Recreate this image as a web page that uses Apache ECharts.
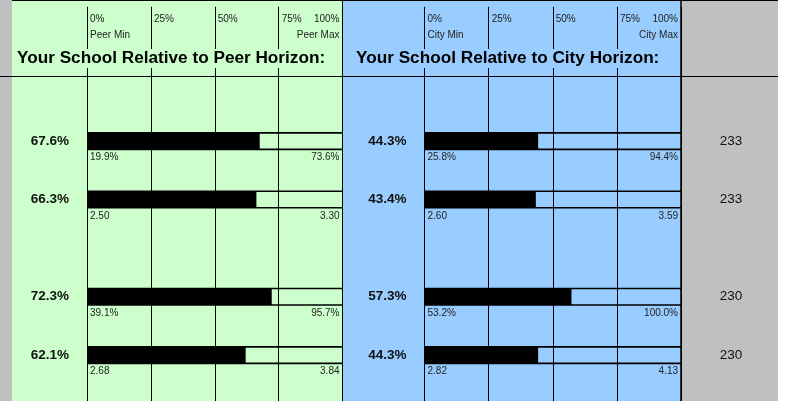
<!DOCTYPE html>
<html>
<head>
<meta charset="utf-8">
<title>Your School Relative to Horizon</title>
<script src="https://cdn.jsdelivr.net/npm/echarts@6/dist/echarts.min.js"></script>
<style>
html, body { margin: 0; padding: 0; background: #fff; }
#chart { width: 791px; height: 401px; }
</style>
</head>
<body>
<div id="chart"></div>
<script type="text/javascript">
// sheet row of each measure (blank rows sit between the two groups)
var sheetRows = [3, 6, 11, 14];

var peerScore = [67.6, 66.3, 72.3, 62.1];
var peerMin = ['19.9%', '2.50', '39.1%', '2.68'];
var peerMax = ['73.6%', '3.30', '95.7%', '3.84'];

var cityScore = [44.3, 43.4, 57.3, 44.3];
var cityMin = ['25.8%', '2.60', '53.2%', '2.82'];
var cityMax = ['94.4%', '3.59', '100.0%', '4.13'];

var schoolCount = [233, 233, 230, 230];

var tickLabels = ['0%', '25%', '50%', '75%', '100%'];

var FONT = '"Liberation Sans", Arial, sans-serif';
var GREEN = '#CCFFCC', BLUE = '#99CCFF', GRAY = '#C0C0C0';

function makeAxisX(gridIndex) {
	return {
		type: 'value',
		gridIndex: gridIndex,
		position: 'top',
		min: 0,
		max: 100,
		interval: 25,
		axisLine: {show: false},
		axisTick: {show: true, length: 76, lineStyle: {color: '#000', width: 1}},
		splitLine: {show: true, lineStyle: {color: '#000', width: 1}},
		axisLabel: {
			show: true,
			showMinLabel: true,
			showMaxLabel: true,
			margin: 64,
			align: 'left',
			alignMaxLabel: 'right',
			verticalAlign: 'top',
			padding: [0, 3, 0, 3],
			color: '#222',
			fontSize: 10,
			lineHeight: 15,
			fontFamily: FONT,
			formatter: function (v) { return tickLabels[Math.round(v / 25)]; }
		}
	};
}

function makeAxisY(gridIndex) {
	return {type: 'value', gridIndex: gridIndex, inverse: true, min: -0.35, max: 16.36, show: false};
}

function makeRender(mins, maxs, counts) {
	return function (params, api) {
		var i = params.dataIndex;
		var v = api.value(0), row = api.value(1);
		var p0 = api.coord([0, row]);
		var p1 = api.coord([100, row]);
		var pv = api.coord([v, row]);
		var h = 16.5;
		var y = p0[1];
		var kids = [
			{type: 'rect', shape: {x: p0[0], y: y - h / 2, width: pv[0] - p0[0], height: h},
				style: {fill: '#000'}},
			{type: 'line', shape: {x1: p0[0], y1: y - h / 2, x2: p1[0], y2: y - h / 2},
				style: {stroke: '#000', lineWidth: 1.6}},
			{type: 'line', shape: {x1: p0[0], y1: y + h / 2, x2: p1[0], y2: y + h / 2},
				style: {stroke: '#000', lineWidth: 1.6}},
			{type: 'text', style: {x: p0[0] - 18, y: y, text: v.toFixed(1) + '%', align: 'right', verticalAlign: 'middle',
				font: 'bold 13.5px ' + FONT, fill: '#111'}},
			{type: 'text', style: {x: p0[0] + 3, y: y + 16.5, text: mins[i], align: 'left', verticalAlign: 'middle',
				font: '10px ' + FONT, fill: '#222'}},
			{type: 'text', style: {x: p1[0] - 3, y: y + 16.5, text: maxs[i], align: 'right', verticalAlign: 'middle',
				font: '10px ' + FONT, fill: '#222'}}
		];
		if (counts) {
			kids.push({type: 'text', style: {x: p1[0] + 50, y: y, text: String(counts[i]), align: 'center', verticalAlign: 'middle',
				font: '13.5px ' + FONT, fill: '#111'}});
		}
		return {type: 'group', children: kids};
	};
}

function endText(x, align, text) {
	return {type: 'text', z: 10, style: {x: x, y: 35, text: text, align: align, verticalAlign: 'middle',
		font: '10px ' + FONT, fill: '#222'}};
}

var chart = echarts.init(document.getElementById('chart'));
chart.setOption({
	animation: false,
	backgroundColor: '#fff',
	title: [{
		text: 'Your School Relative to Peer Horizon:',
		left: 15, top: 49, padding: [1, 2],
		backgroundColor: GREEN,
		textStyle: {fontSize: 17.2, fontWeight: 'bold', color: '#000', fontFamily: FONT, lineHeight: 17}
	}, {
		text: 'Your School Relative to City Horizon:',
		left: 354, top: 49, padding: [1, 2],
		backgroundColor: BLUE,
		textStyle: {fontSize: 17.2, fontWeight: 'bold', color: '#000', fontFamily: FONT, lineHeight: 17}
	}],
	grid: [
		{left: 87, width: 255.5, top: 76, bottom: 0},
		{left: 424.5, width: 256.5, top: 76, bottom: 0}
	],
	xAxis: [makeAxisX(0), makeAxisX(1)],
	yAxis: [makeAxisY(0), makeAxisY(1)],
	series: [{
		name: 'Peer',
		type: 'custom',
		xAxisIndex: 0, yAxisIndex: 0,
		clip: false,
		renderItem: makeRender(peerMin, peerMax, null),
		data: sheetRows.map(function (r, i) { return [peerScore[i], r]; })
	}, {
		name: 'City',
		type: 'custom',
		xAxisIndex: 1, yAxisIndex: 1,
		clip: false,
		renderItem: makeRender(cityMin, cityMax, schoolCount),
		data: sheetRows.map(function (r, i) { return [cityScore[i], r]; })
	}],
	graphic: [
		{type: 'rect', z: -10, shape: {x: 0, y: 0, width: 12, height: 401}, style: {fill: GRAY}},
		{type: 'rect', z: -10, shape: {x: 12, y: 0, width: 330.5, height: 401}, style: {fill: GREEN}},
		{type: 'rect', z: -10, shape: {x: 342.5, y: 0, width: 338.5, height: 401}, style: {fill: BLUE}},
		{type: 'rect', z: -10, shape: {x: 681, y: 0, width: 97, height: 401}, style: {fill: GRAY}},
		{type: 'line', z: 10, shape: {x1: 12, y1: 0.5, x2: 778, y2: 0.5}, style: {stroke: '#000', lineWidth: 1}},
		{type: 'line', z: 10, shape: {x1: 0, y1: 76.5, x2: 778, y2: 76.5}, style: {stroke: '#000', lineWidth: 1}},
		{type: 'line', z: 10, shape: {x1: 342.5, y1: 0, x2: 342.5, y2: 401}, style: {stroke: '#000', lineWidth: 1}},
		{type: 'line', z: 10, shape: {x1: 681, y1: 0, x2: 681, y2: 401}, style: {stroke: '#000', lineWidth: 1.5}},
		endText(90, 'left', 'Peer Min'),
		endText(339.5, 'right', 'Peer Max'),
		endText(427.5, 'left', 'City Min'),
		endText(678, 'right', 'City Max')
	]
});
</script>
</body>
</html>
